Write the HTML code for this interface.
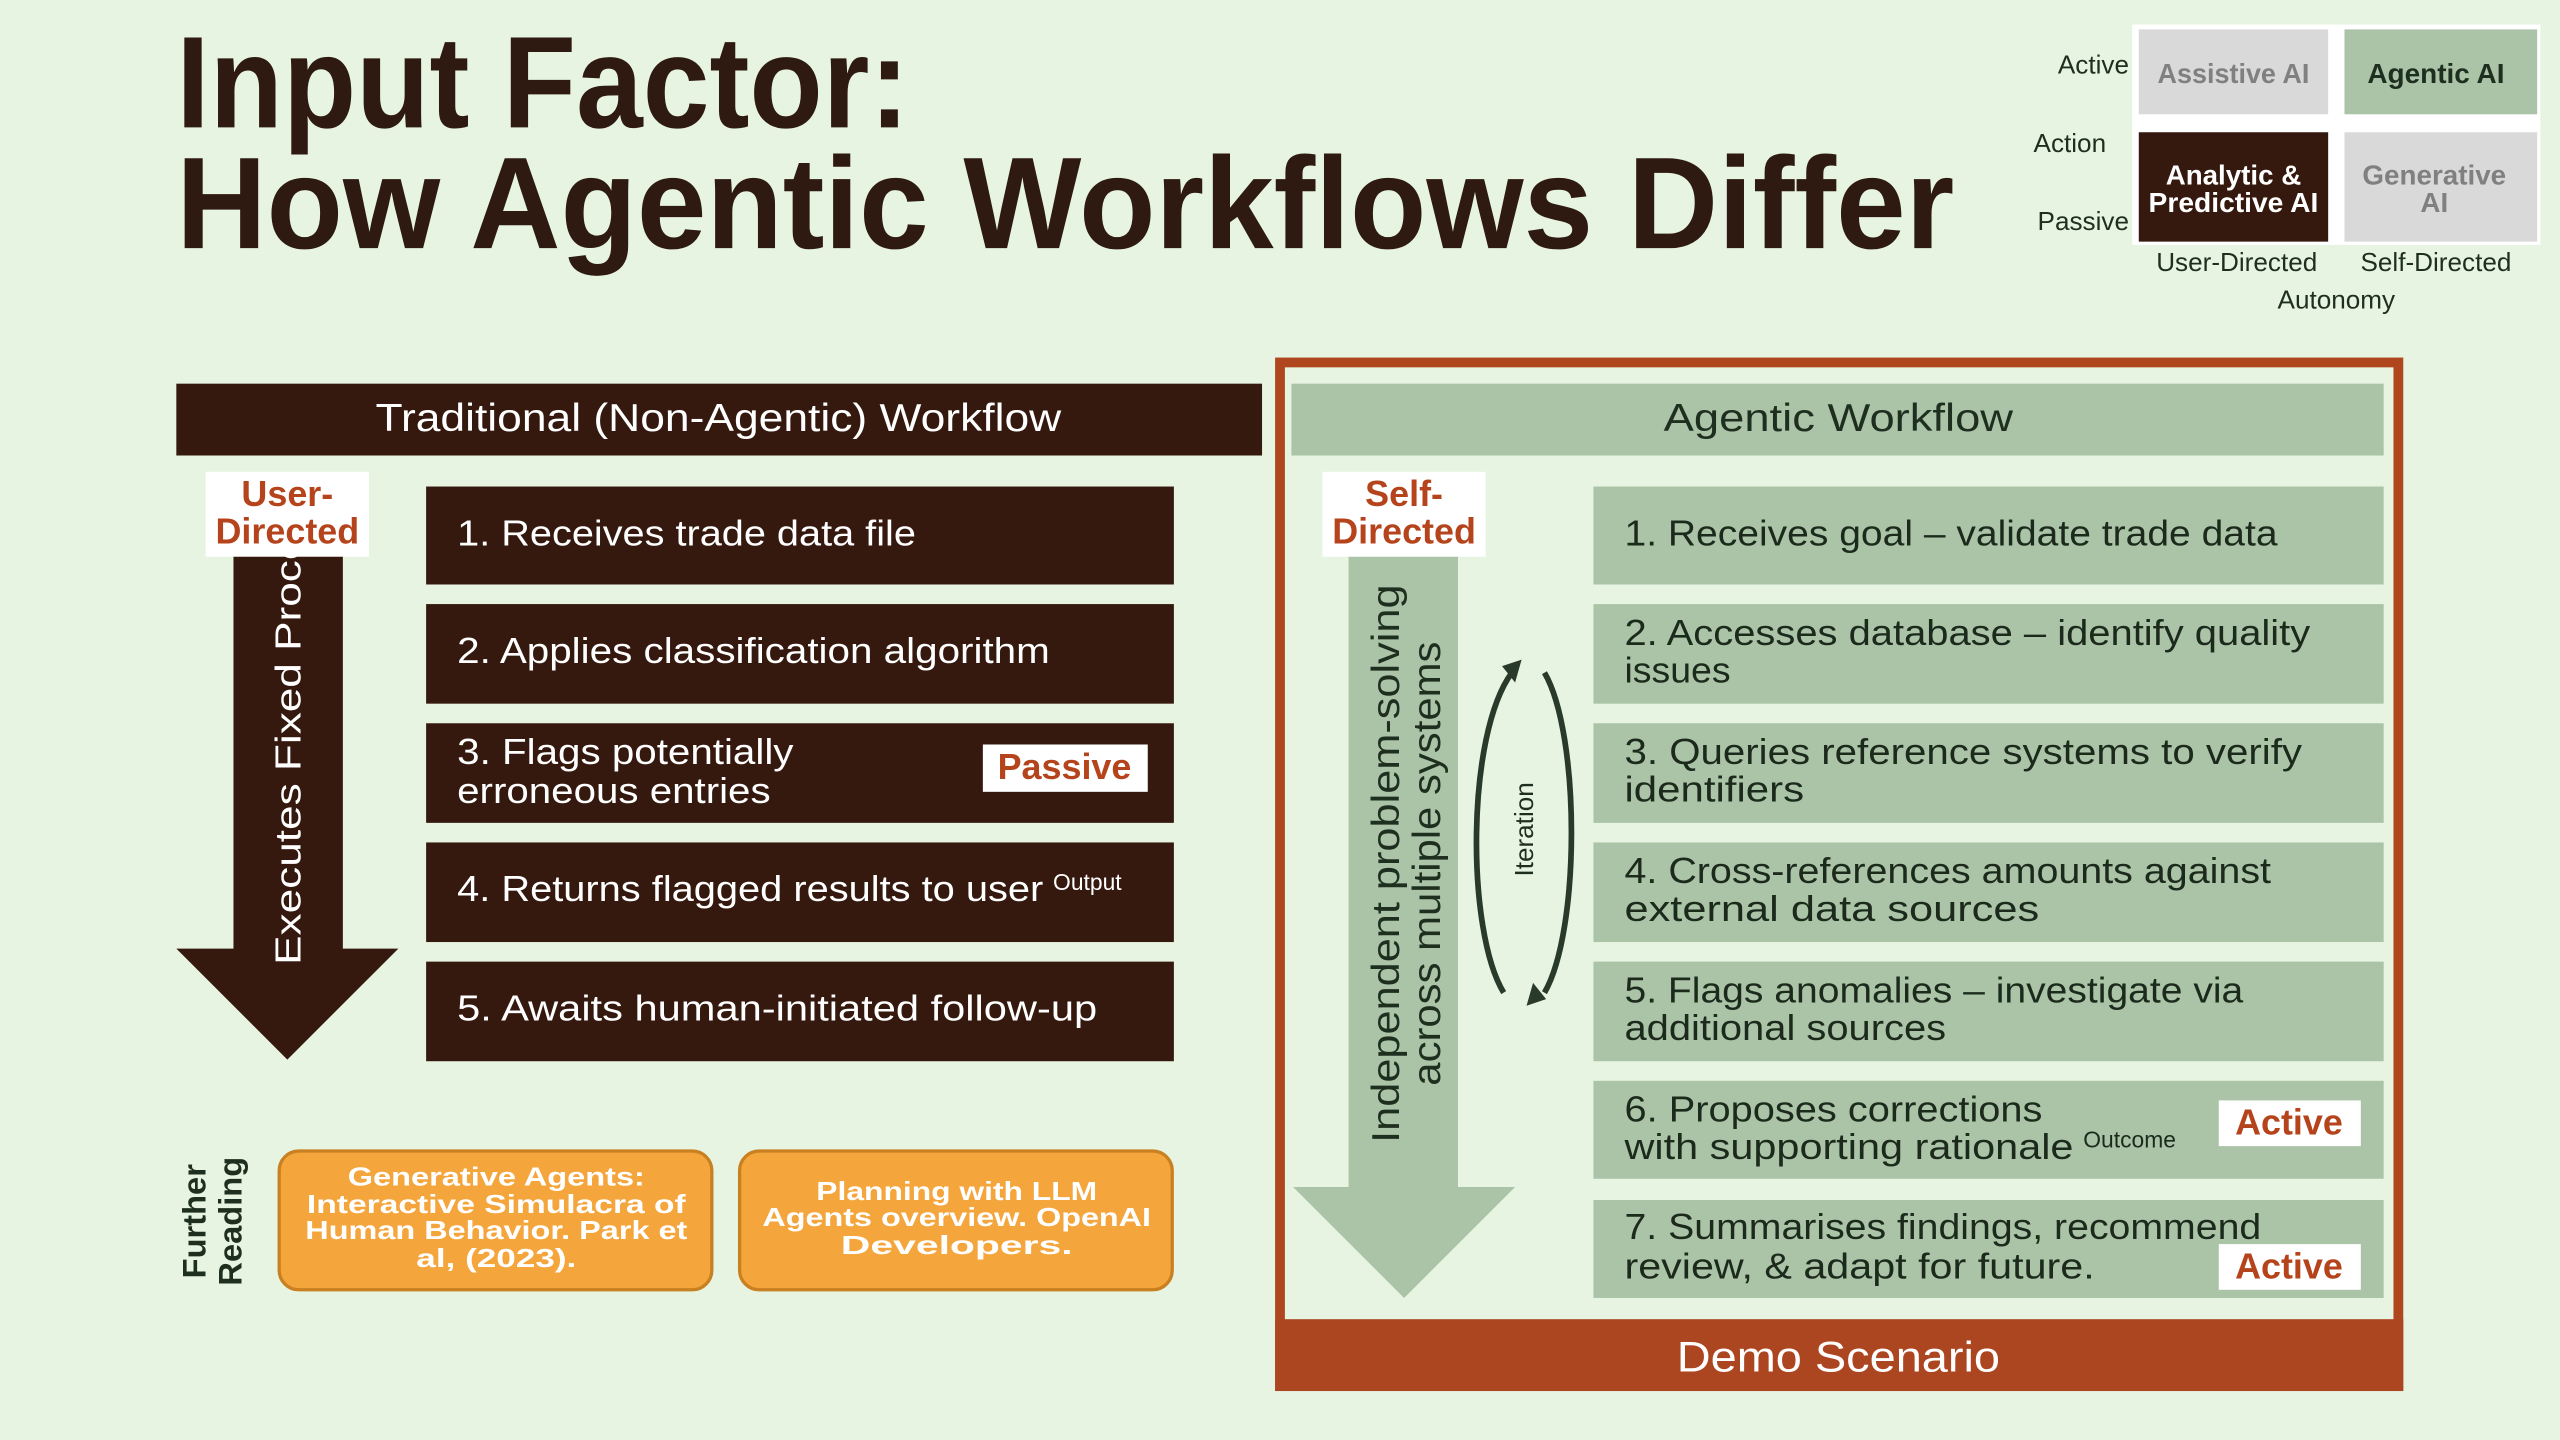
<!DOCTYPE html>
<html><head><meta charset="utf-8"><style>
html,body{margin:0;padding:0;background:#e6f4e1;}
svg{display:block;}
text{font-family:"Liberation Sans",sans-serif;}
</style></head><body>
<svg width="2560" height="1440" viewBox="0 0 1568 882" xmlns="http://www.w3.org/2000/svg">
<rect x="0" y="0" width="1568" height="882" fill="#e6f4e1"/>
<g fill="#2e1a10" font-weight="bold">
<text x="108" y="78" font-size="80" textLength="449" lengthAdjust="spacingAndGlyphs">Input Factor:</text>
<text x="108" y="152" font-size="80" textLength="1089" lengthAdjust="spacingAndGlyphs">How Agentic Workflows Differ</text>
</g>
<rect x="1306" y="15" width="250" height="135" fill="#ffffff"/>
<rect x="1310" y="18" width="116" height="52" fill="#d9d9d9"/>
<rect x="1436" y="18" width="118" height="52" fill="#abc4a8"/>
<rect x="1310" y="81" width="116" height="67" fill="#35190f"/>
<rect x="1436" y="81" width="118" height="67" fill="#d9d9d9"/>
<g font-size="17" text-anchor="middle" font-weight="bold">
<text x="1368" y="51" fill="#808080" textLength="93" lengthAdjust="spacingAndGlyphs">Assistive AI</text>
<text x="1492" y="51" fill="#1f2f1f" textLength="84" lengthAdjust="spacingAndGlyphs">Agentic AI</text>
<text x="1368" y="113" fill="#ffffff" textLength="83" lengthAdjust="spacingAndGlyphs">Analytic &amp;</text>
<text x="1368" y="130" fill="#ffffff" textLength="104" lengthAdjust="spacingAndGlyphs">Predictive AI</text>
<text x="1491" y="113" fill="#808080" textLength="88" lengthAdjust="spacingAndGlyphs">Generative</text>
<text x="1491" y="130" fill="#808080">AI</text>
</g>
<g font-size="16" fill="#1f2f1f">
<text x="1304" y="45" text-anchor="end">Active</text>
<text x="1290" y="93" text-anchor="end">Action</text>
<text x="1304" y="141" text-anchor="end">Passive</text>
<text x="1370" y="166" text-anchor="middle">User-Directed</text>
<text x="1492" y="166" text-anchor="middle">Self-Directed</text>
<text x="1431" y="189" text-anchor="middle">Autonomy</text>
</g>
<rect x="108" y="235" width="665" height="44" fill="#35190f"/>
<text x="440" y="264" font-size="24" fill="#fff" text-anchor="middle" textLength="420" lengthAdjust="spacingAndGlyphs">Traditional (Non-Agentic) Workflow</text>
<polygon points="143,330 210,330 210,581 244,581 176,649 108,581 143,581" fill="#35190f"/>
<text transform="translate(184,591) rotate(-90)" font-size="22" fill="#fff" textLength="290" lengthAdjust="spacingAndGlyphs">Executes Fixed Process</text>
<rect x="126" y="289" width="100" height="52" fill="#fff"/>
<g font-size="22" font-weight="bold" fill="#b5441c" text-anchor="middle">
<text x="176" y="310">User-</text><text x="176" y="333">Directed</text></g>
<g fill="#35190f">
<rect x="261" y="298" width="458" height="60"/>
<rect x="261" y="370" width="458" height="61"/>
<rect x="261" y="443" width="458" height="61"/>
<rect x="261" y="516" width="458" height="61"/>
<rect x="261" y="589" width="458" height="61"/>
</g>
<g font-size="22" fill="#fff">
<text x="280" y="334" textLength="281" lengthAdjust="spacingAndGlyphs">1. Receives trade data file</text>
<text x="280" y="406" textLength="363" lengthAdjust="spacingAndGlyphs">2. Applies classification algorithm</text>
<text x="280" y="468" textLength="206" lengthAdjust="spacingAndGlyphs">3. Flags potentially</text>
<text x="280" y="492" textLength="192" lengthAdjust="spacingAndGlyphs">erroneous entries</text>
<text x="280" y="552" textLength="359" lengthAdjust="spacingAndGlyphs">4. Returns flagged results to user</text>
<text x="645" y="545" font-size="14">Output</text>
<text x="280" y="625" textLength="392" lengthAdjust="spacingAndGlyphs">5. Awaits human-initiated follow-up</text>
</g>
<rect x="602" y="456" width="101" height="29" fill="#fff"/>
<text x="652" y="477" font-size="22" font-weight="bold" fill="#b5441c" text-anchor="middle">Passive</text>
<g font-size="20" font-weight="bold" fill="#1f2f1f" text-anchor="middle">
<text transform="translate(126,748) rotate(-90)">Further</text>
<text transform="translate(148,748) rotate(-90)">Reading</text>
</g>
<rect x="171" y="705" width="265" height="85" rx="12" fill="#f4a53c" stroke="#c98020" stroke-width="2"/>
<rect x="453" y="705" width="265" height="85" rx="12" fill="#f4a53c" stroke="#c98020" stroke-width="2"/>
<g font-size="16" font-weight="bold" fill="#fff" text-anchor="middle">
<text x="304" y="726" textLength="182" lengthAdjust="spacingAndGlyphs">Generative Agents:</text>
<text x="304" y="743" textLength="232" lengthAdjust="spacingAndGlyphs">Interactive Simulacra of</text>
<text x="304" y="759" textLength="234" lengthAdjust="spacingAndGlyphs">Human Behavior. Park et</text>
<text x="304" y="776" textLength="98" lengthAdjust="spacingAndGlyphs">al, (2023).</text>
<text x="586" y="735" textLength="172" lengthAdjust="spacingAndGlyphs">Planning with LLM</text>
<text x="586" y="751" textLength="238" lengthAdjust="spacingAndGlyphs">Agents overview. OpenAI</text>
<text x="586" y="768" textLength="142" lengthAdjust="spacingAndGlyphs">Developers.</text>
</g>
<rect x="784" y="222" width="685" height="627" fill="#e6f4e1" stroke="#b0461e" stroke-width="6"/>
<rect x="781" y="808" width="691" height="44" fill="#ac4620"/>
<text x="1126" y="840" font-size="26" fill="#fff" text-anchor="middle" textLength="198" lengthAdjust="spacingAndGlyphs">Demo Scenario</text>
<rect x="791" y="235" width="669" height="44" fill="#abc4a8"/>
<text x="1126" y="264" font-size="24" fill="#1f2f1f" text-anchor="middle" textLength="214" lengthAdjust="spacingAndGlyphs">Agentic Workflow</text>
<polygon points="826,330 893,330 893,727 928,727 860,795 792,727 826,727" fill="#abc4a8"/>
<g font-size="24" fill="#1f2f1f" text-anchor="middle">
<text transform="translate(857,529) rotate(-90)" textLength="342" lengthAdjust="spacingAndGlyphs">Independent problem-solving</text>
<text transform="translate(882,529) rotate(-90)" textLength="272" lengthAdjust="spacingAndGlyphs">across multiple systems</text>
</g>
<rect x="810" y="289" width="100" height="52" fill="#fff"/>
<g font-size="22" font-weight="bold" fill="#b5441c" text-anchor="middle">
<text x="860" y="310">Self-</text><text x="860" y="333">Directed</text></g>
<g fill="none" stroke="#2a3a2a" stroke-width="3.5">
<path d="M921,608 C898,570 898,450 926,412"/>
<path d="M946,412 C968,450 968,570 946,608"/>
</g>
<polygon points="920,408 932,404 928,418" fill="#2a3a2a"/>
<polygon points="947,612 935,616 939,602" fill="#2a3a2a"/>
<text transform="translate(939,508) rotate(-90)" font-size="16" fill="#1f2f1f" text-anchor="middle">Iteration</text>
<g fill="#abc4a8">
<rect x="976" y="298" width="484" height="60"/>
<rect x="976" y="370" width="484" height="61"/>
<rect x="976" y="443" width="484" height="61"/>
<rect x="976" y="516" width="484" height="61"/>
<rect x="976" y="589" width="484" height="61"/>
<rect x="976" y="662" width="484" height="60"/>
<rect x="976" y="735" width="484" height="60"/>
</g>
<g font-size="22" fill="#1c2a1c">
<text x="995" y="334" textLength="400" lengthAdjust="spacingAndGlyphs">1. Receives goal – validate trade data</text>
<text x="995" y="395" textLength="420" lengthAdjust="spacingAndGlyphs">2. Accesses database – identify quality</text>
<text x="995" y="418" textLength="65" lengthAdjust="spacingAndGlyphs">issues</text>
<text x="995" y="468" textLength="415" lengthAdjust="spacingAndGlyphs">3. Queries reference systems to verify</text>
<text x="995" y="491" textLength="110" lengthAdjust="spacingAndGlyphs">identifiers</text>
<text x="995" y="541" textLength="396" lengthAdjust="spacingAndGlyphs">4. Cross-references amounts against</text>
<text x="995" y="564" textLength="254" lengthAdjust="spacingAndGlyphs">external data sources</text>
<text x="995" y="614" textLength="379" lengthAdjust="spacingAndGlyphs">5. Flags anomalies – investigate via</text>
<text x="995" y="637" textLength="197" lengthAdjust="spacingAndGlyphs">additional sources</text>
<text x="995" y="687" textLength="256" lengthAdjust="spacingAndGlyphs">6. Proposes corrections</text>
<text x="995" y="710" textLength="275" lengthAdjust="spacingAndGlyphs">with supporting rationale</text>
<text x="1276" y="703" font-size="14">Outcome</text>
<text x="995" y="759" textLength="390" lengthAdjust="spacingAndGlyphs">7. Summarises findings, recommend</text>
<text x="995" y="783" textLength="288" lengthAdjust="spacingAndGlyphs">review, &amp; adapt for future.</text>
</g>
<rect x="1359" y="674" width="87" height="28" fill="#fff"/>
<rect x="1359" y="762" width="87" height="28" fill="#fff"/>
<g font-size="22" font-weight="bold" fill="#b5441c" text-anchor="middle">
<text x="1402" y="695">Active</text>
<text x="1402" y="783">Active</text>
</g>
</svg>
</body></html>
